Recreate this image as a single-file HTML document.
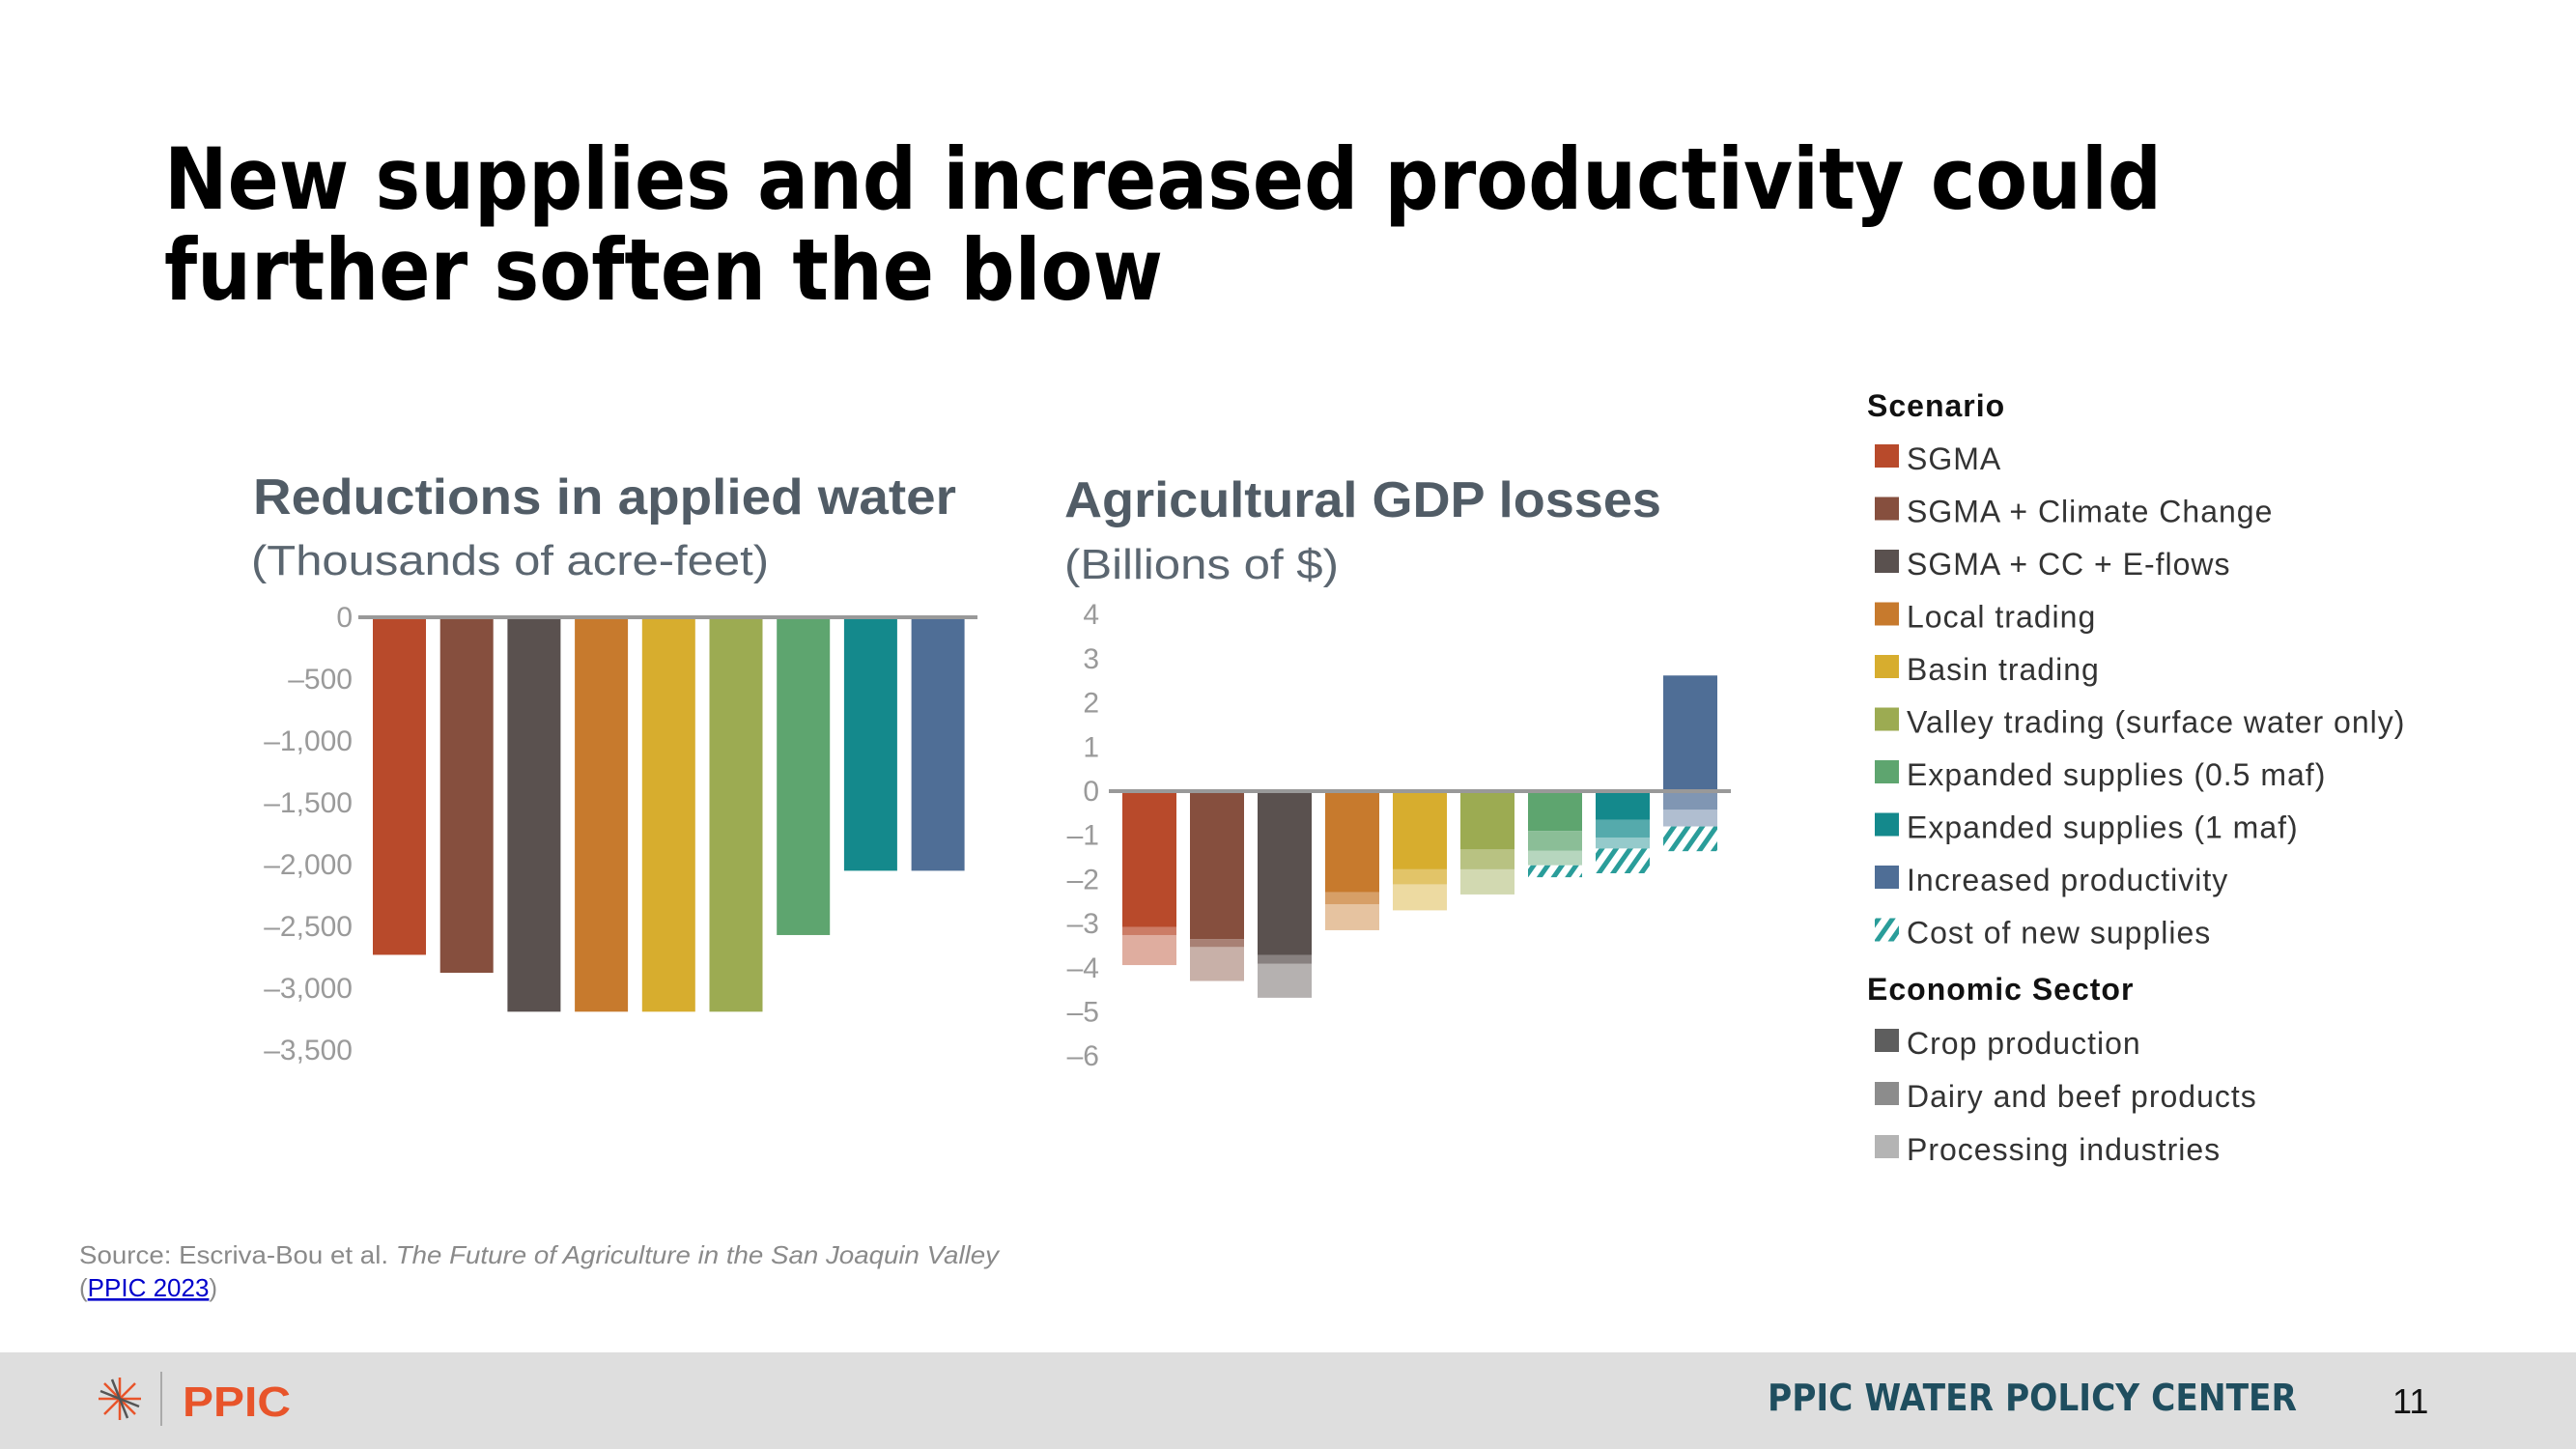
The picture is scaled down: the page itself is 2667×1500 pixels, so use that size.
<!DOCTYPE html>
<html><head><meta charset="utf-8"><style>
html,body{margin:0;padding:0;background:#fff}
svg{display:block}
</style></head><body>
<svg id="s" xmlns="http://www.w3.org/2000/svg" width="2667" height="1500" viewBox="0 0 2667 1500">
<defs>
<pattern id="hatch" patternUnits="userSpaceOnUse" width="12" height="12" patternTransform="rotate(35)">
<rect width="12" height="12" fill="#fff"/><rect width="5" height="12" fill="#2a9d9a"/>
</pattern>
</defs>
<g font-family="DejaVu Sans, Liberation Sans, sans-serif" font-weight="bold" font-size="88" fill="#000">
<text x="170" y="216" textLength="2068" lengthAdjust="spacingAndGlyphs">New supplies and increased productivity could</text>
<text x="170" y="310" textLength="1034" lengthAdjust="spacingAndGlyphs">further soften the blow</text>
</g>
<g font-family="Liberation Sans, sans-serif">
<text x="262" y="532" font-size="52" font-weight="bold" fill="#515c66" textLength="728" lengthAdjust="spacingAndGlyphs">Reductions in applied water</text>
<text x="260" y="595" font-size="44" fill="#5b6670" textLength="536" lengthAdjust="spacingAndGlyphs">(Thousands of acre-feet)</text>
<text x="1102" y="535" font-size="52" font-weight="bold" fill="#515c66" textLength="618" lengthAdjust="spacingAndGlyphs">Agricultural GDP losses</text>
<text x="1102" y="599" font-size="44" fill="#5b6670" textLength="284" lengthAdjust="spacingAndGlyphs">(Billions of $)</text>
</g>
<g id="left"></g>
<g id="right"></g>
<g id="legend" font-family="Liberation Sans, sans-serif" font-size="32" letter-spacing="1" fill="#333"></g>
<g font-family="Liberation Sans, sans-serif" font-size="26" fill="#8a8a8a">
<text x="82" y="1308" textLength="952" lengthAdjust="spacingAndGlyphs">Source: Escriva-Bou et al. <tspan font-style="italic">The Future of Agriculture in the San Joaquin Valley</tspan></text>
<text x="82" y="1342">(<tspan fill="#0000cc" text-decoration="underline">PPIC 2023</tspan>)</text>
</g>
<rect x="0" y="1400" width="2667" height="100" fill="#dedede"/>
<g>
<g stroke="#e8542a" stroke-width="2.5" transform="translate(124,1448)">
<line x1="-22" y1="0" x2="22" y2="0"/><line x1="0" y1="-22" x2="0" y2="22"/>
<line x1="-16" y1="-16" x2="16" y2="16"/><line x1="-16" y1="16" x2="16" y2="-16"/>
<line x1="-8" y1="-20" x2="8" y2="20" stroke="#555"/><line x1="-20" y1="-8" x2="20" y2="8" stroke="#555"/>
</g>
<line x1="167" y1="1420" x2="167" y2="1476" stroke="#999" stroke-width="1.5"/>
<text x="189" y="1466" font-family="Liberation Sans, sans-serif" font-weight="bold" font-size="44" fill="#e8542a" textLength="112" lengthAdjust="spacingAndGlyphs">PPIC</text>
</g>
<text x="1830" y="1460" font-family="DejaVu Sans, sans-serif" font-weight="bold" font-size="38" fill="#1f4e5f" textLength="548" lengthAdjust="spacingAndGlyphs">PPIC WATER POLICY CENTER</text>
<text x="2477" y="1463" font-family="Liberation Sans, sans-serif" font-size="36" fill="#111">11</text>
</svg>
<script>
const NS='http://www.w3.org/2000/svg';
const colors=['#b84a2b','#864f3e','#5a514f','#c77a2d','#d7ad2e','#9cab52','#5ea56f','#14898c','#4f6e96'];
const scenarios=['SGMA','SGMA + Climate Change','SGMA + CC + E-flows','Local trading','Basin trading','Valley trading (surface water only)','Expanded supplies (0.5 maf)','Expanded supplies (1 maf)','Increased productivity'];
const waterValues=[-2730,-2875,-3190,-3190,-3190,-3190,-2570,-2050,-2050];
const waterTicks=[0,-500,-1000,-1500,-2000,-2500,-3000,-3500];
const waterTickLabels=['0','\u2013500','\u20131,000','\u20131,500','\u20132,000','\u20132,500','\u20133,000','\u20133,500'];
const gdpCrop=[-3.08,-3.35,-3.71,-2.29,-1.77,-1.32,-0.90,-0.65,2.62];
const gdpDairy=[-0.18,-0.18,-0.20,-0.27,-0.34,-0.45,-0.45,-0.40,-0.42];
const gdpProcessing=[-0.68,-0.77,-0.77,-0.59,-0.59,-0.57,-0.33,-0.25,-0.38];
const gdpCost=[0,0,0,0,0,0,-0.27,-0.56,-0.56];
const gdpTicks=[4,3,2,1,0,-1,-2,-3,-4,-5,-6];
const gdpTickLabels=['4','3','2','1','0','\u20131','\u20132','\u20133','\u20134','\u20135','\u20136'];

function mk(tag,attrs,parent){const e=document.createElementNS(NS,tag);for(const k in attrs)e.setAttribute(k,attrs[k]);parent.appendChild(e);return e;}

// Left chart
const L=document.getElementById('left');
const ly=v=>639+(-v)/500*64;
const lx=i=>386+i*69.7;
waterTicks.forEach((t,i)=>{const e=mk('text',{x:365,y:ly(t)+10,'text-anchor':'end','font-family':'Liberation Sans, sans-serif','font-size':30,fill:'#9a9a9a'},L);e.textContent=waterTickLabels[i];

});
waterValues.forEach((v,i)=>{const r=mk('rect',{x:lx(i),y:ly(0),width:55,height:ly(v)-ly(0),fill:colors[i]},L);

});
const la=mk('line',{x1:371,x2:1012,y1:ly(0),y2:ly(0),stroke:'#999',"stroke-width":4},L);



// Right chart
const R=document.getElementById('right');
const ry=v=>819-v*45.7;
const rx=i=>1162+i*70;
gdpTicks.forEach((t,i)=>{const e=mk('text',{x:1138,y:ry(t)+10,'text-anchor':'end','font-family':'Liberation Sans, sans-serif','font-size':30,fill:'#9a9a9a'},R);e.textContent=gdpTickLabels[i];

});
gdpCrop.forEach((c,i)=>{
  let neg=0;
  const seg=(v,fill,op,name)=>{if(v===0)return;let y0,y1;
    if(v>0){y0=ry(v);y1=ry(0);}else{y0=ry(neg);neg+=v;y1=ry(neg);}
    const r=mk('rect',{x:rx(i),y:y0,width:56,height:y1-y0,fill:fill,'fill-opacity':op},R);
    
    };
  seg(c,colors[i],1,'gdp-crop');
  seg(gdpDairy[i],colors[i],0.72,'gdp-dairy');
  seg(gdpProcessing[i],colors[i],0.45,'gdp-processing');
  seg(gdpCost[i],'url(#hatch)',1,'gdp-cost');
});
const ra=mk('line',{x1:1148,x2:1792,y1:ry(0),y2:ry(0),stroke:'#999',"stroke-width":4},R);



// Legend
const G=document.getElementById('legend');
const h1=mk('text',{x:1933,y:431,'font-weight':'bold',fill:'#111'},G);h1.textContent='Scenario';


const items=scenarios.map((s,i)=>({t:s,f:colors[i]})).concat([{t:'Cost of new supplies',f:'url(#hatch)'}]);
items.forEach((it,i)=>{const y=486+i*54.5;
  const g=mk('g',{},G);
  
  
  mk('rect',{x:1941,y:y-26,width:25,height:24,fill:it.f},g);
  const t=mk('text',{x:1974,y:y},g);t.textContent=it.t;});
const h2=mk('text',{x:1933,y:1035,'font-weight':'bold',fill:'#111'},G);h2.textContent='Economic Sector';


[['Crop production','#5e5e5e'],['Dairy and beef products','#8c8c8c'],['Processing industries','#b4b4b4']].forEach((s,i)=>{const y=1091+i*55;
  const g=mk('g',{},G);
  
  
  mk('rect',{x:1941,y:y-26,width:25,height:24,fill:s[1]},g);
  const t=mk('text',{x:1974,y:y},g);t.textContent=s[0];});
</script>
</body></html>
